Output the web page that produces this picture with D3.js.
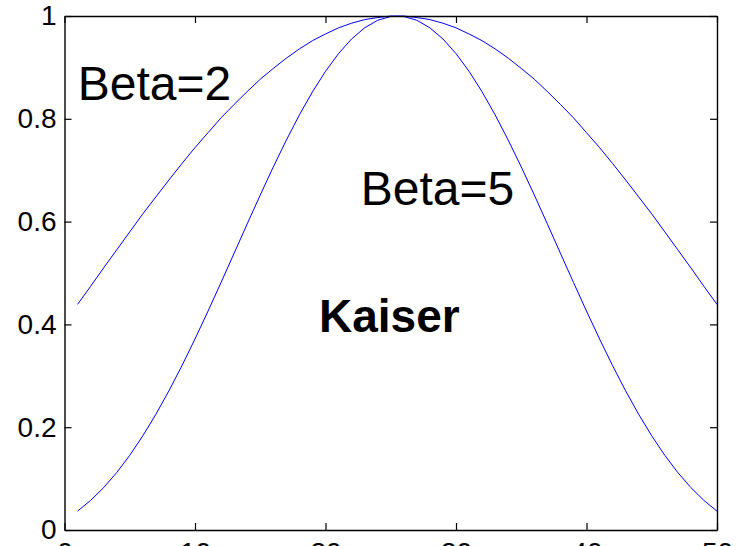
<!DOCTYPE html>
<html>
<head>
<meta charset="utf-8">
<script src="https://cdn.jsdelivr.net/npm/d3@7"></script>
<style>
  body { margin: 0; background: #fff; }
  svg { display: block; font-family: Arial, "Liberation Sans", sans-serif; }
</style>
</head>
<body>
<div id="chart"></div>
<script>
// Kaiser window samples, 50 points each, plotted at sample index 1..50
const beta2 = [
  0.439, 0.474, 0.510, 0.545, 0.580, 0.615, 0.648, 0.681, 0.713, 0.744,
  0.773, 0.802, 0.828, 0.853, 0.877, 0.898, 0.918, 0.936, 0.952, 0.965,
  0.977, 0.986, 0.993, 0.997, 1.000, 1.000, 0.997, 0.993, 0.986, 0.977,
  0.965, 0.952, 0.936, 0.918, 0.898, 0.877, 0.853, 0.828, 0.802, 0.773,
  0.744, 0.713, 0.681, 0.648, 0.615, 0.580, 0.545, 0.510, 0.474, 0.439
];
const beta5 = [
  0.0367, 0.0575, 0.0825, 0.1117, 0.1453, 0.1832, 0.2250, 0.2707, 0.3197, 0.3717,
  0.4259, 0.4818, 0.5386, 0.5955, 0.6517, 0.7064, 0.7586, 0.8076, 0.8524, 0.8924,
  0.9269, 0.9553, 0.9770, 0.9917, 0.9991, 0.9991, 0.9917, 0.9770, 0.9553, 0.9269,
  0.8924, 0.8524, 0.8076, 0.7586, 0.7064, 0.6517, 0.5955, 0.5386, 0.4818, 0.4259,
  0.3717, 0.3197, 0.2707, 0.2250, 0.1832, 0.1453, 0.1117, 0.0825, 0.0575, 0.0367
];
const xTicks = [0, 10, 20, 30, 40, 50];
const yTicks = [0, 0.2, 0.4, 0.6, 0.8, 1];
const notes = [
  { text: 'Beta=2', x: 1.02, y: 0.837, bold: false, size: 48 },
  { text: 'Beta=5', x: 22.7, y: 0.632, bold: false, size: 48 },
  { text: 'Kaiser', x: 19.5, y: 0.385, bold: true, size: 46 }
];

const width = 740;
const height = 546;
const margin = { top: 16, right: 23, bottom: 16, left: 64.5 };

const svg = d3.select('#chart').append('svg')
  .attr('width', width)
  .attr('height', height);

const x = d3.scaleLinear().domain([0, 50]).range([margin.left, width - margin.right]);
const y = d3.scaleLinear().domain([0, 1]).range([height - margin.bottom, margin.top]);

// curves
const line = d3.line()
  .x((d, i) => x(i + 1))
  .y((d) => y(d));

[beta2, beta5].forEach((series) => {
  svg.append('path')
    .datum(series)
    .attr('fill', 'none')
    .attr('stroke', '#0000ff')
    .attr('stroke-width', 1)
    .attr('d', line);
});

// axes, MATLAB style: ticks inward on all four sides
const tickLen = 7;
const fmt = d3.format('~g');

svg.append('g')
  .attr('transform', `translate(0,${y(0)})`)
  .call(d3.axisBottom(x).tickValues(xTicks).tickSizeInner(-tickLen).tickSizeOuter(0).tickPadding(12).tickFormat(fmt))
  .call((g) => g.selectAll('text').attr('dy', '0.71em'));

svg.append('g')
  .attr('transform', `translate(0,${y(1)})`)
  .call(d3.axisTop(x).tickValues(xTicks).tickSizeInner(-tickLen).tickSizeOuter(0).tickFormat(''));

svg.append('g')
  .attr('transform', `translate(${x(0)},0)`)
  .call(d3.axisLeft(y).tickValues(yTicks).tickSizeInner(-tickLen).tickSizeOuter(0).tickPadding(8).tickFormat(fmt));

svg.append('g')
  .attr('transform', `translate(${x(50)},0)`)
  .call(d3.axisRight(y).tickValues(yTicks).tickSizeInner(-tickLen).tickSizeOuter(0).tickFormat(''));

svg.selectAll('.domain').attr('stroke', '#000').attr('stroke-width', 1.4);
svg.selectAll('.tick line').attr('stroke', '#000').attr('stroke-width', 1.2);
svg.selectAll('.tick text')
  .attr('fill', '#000')
  .style('font-size', '28px')
  .style('font-family', 'Arial, "Liberation Sans", sans-serif');

// text annotations
svg.selectAll('text.note')
  .data(notes)
  .enter().append('text')
    .attr('class', 'note')
    .attr('x', (d) => x(d.x))
    .attr('y', (d) => y(d.y))
    .attr('fill', '#000')
    .style('font-size', (d) => d.size + 'px')
    .style('font-weight', (d) => d.bold ? 'bold' : 'normal')
    .text((d) => d.text);
</script>
</body>
</html>
